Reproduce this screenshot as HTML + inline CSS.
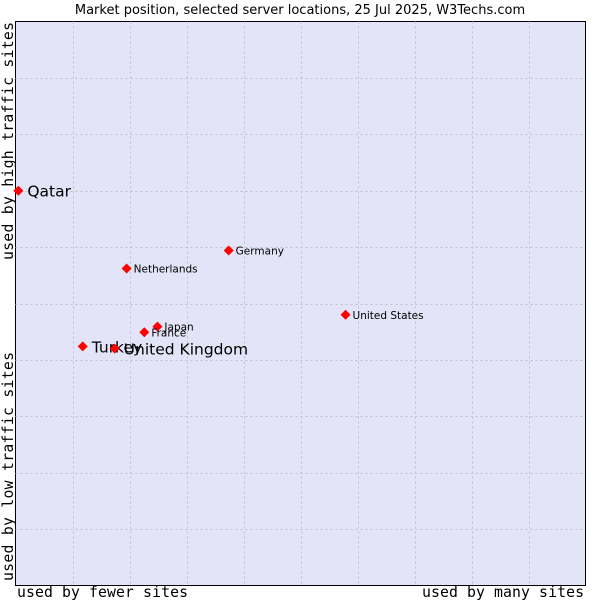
<!DOCTYPE html>
<html><head><meta charset="utf-8"><style>
body{margin:0;background:#fff;width:600px;height:600px;overflow:hidden}
svg{display:block}
</style></head><body>
<svg id="chart" width="600" height="600" xmlns="http://www.w3.org/2000/svg">
<text x="300" y="14" text-anchor="middle" font-family="DejaVu Sans, sans-serif" font-size="13" fill="#000">Market position, selected server locations, 25 Jul 2025, W3Techs.com</text>
<rect x="15.5" y="21.5" width="570" height="564" fill="#e3e4f7" stroke="#000" stroke-width="1"/>
<g id="grid"></g>
<text transform="translate(13,260) rotate(-90)" font-family="DejaVu Sans Mono, monospace" font-size="14.8" fill="#000" textLength="238">used by high traffic sites</text>
<text transform="translate(13,581) rotate(-90)" font-family="DejaVu Sans Mono, monospace" font-size="14.8" fill="#000" textLength="229">used by low traffic sites</text>
<text x="17" y="597" font-family="DejaVu Sans Mono, monospace" font-size="14.8" fill="#000" textLength="171">used by fewer sites</text>
<text x="422" y="597" font-family="DejaVu Sans Mono, monospace" font-size="14.8" fill="#000" textLength="162">used by many sites</text>
<g id="points"></g>
</svg>
<script>
const countries = ["Qatar","Germany","Netherlands","United States","Japan","France","Turkey","United Kingdom"];
const siteShare = [0.5,37.4,19.5,57.9,24.9,22.6,11.8,17.4];
const trafficScore = [70.0,59.4,56.2,48.0,45.9,44.9,42.4,42.0];
const bigLabel = [true,false,false,false,false,false,true,true];
const gridTicks = [10,20,30,40,50,60,70,80,90];
const X0=15.5,W=570,Y0=21.5,H=564;
const xs=v=>X0+v/100*W, ys=v=>Y0+H-v/100*H;
const ns="http://www.w3.org/2000/svg";
const grid=document.getElementById('grid'), pts=document.getElementById('points');
gridTicks.forEach(t=>{
  const v=document.createElementNS(ns,'line');
  
  
  v.setAttribute('x1',Math.round(xs(t))+0.5);v.setAttribute('x2',Math.round(xs(t))+0.5);
  v.setAttribute('y1',Y0);v.setAttribute('y2',Y0+H);
  v.setAttribute('stroke','#c0c0c8');v.setAttribute('stroke-dasharray','2,3');
  grid.appendChild(v);
  const h=document.createElementNS(ns,'line');
  
  
  h.setAttribute('y1',Math.round(ys(t))+0.5);h.setAttribute('y2',Math.round(ys(t))+0.5);
  h.setAttribute('x1',X0);h.setAttribute('x2',X0+W);
  h.setAttribute('stroke','#c0c0c8');h.setAttribute('stroke-dasharray','2,3');
  grid.appendChild(h);
});
countries.forEach((c,i)=>{
  const x=xs(siteShare[i]), y=ys(trafficScore[i]);
  const d=document.createElementNS(ns,'path');
  
  
  d.setAttribute('d',`M${x} ${y-5}L${x+5} ${y}L${x} ${y+5}L${x-5} ${y}Z`);
  d.setAttribute('fill','#ff0000');
  pts.appendChild(d);
  const t=document.createElementNS(ns,'text');
  
  
  t.setAttribute('x',x+(bigLabel[i]?9:7));
  t.setAttribute('y',y+(bigLabel[i]?6:4));
  t.setAttribute('font-family','DejaVu Sans, sans-serif');
  t.setAttribute('font-size',bigLabel[i]?15.5:10.5);
  t.setAttribute('fill','#000');
  t.textContent=c;
  pts.appendChild(t);
});
</script>
</body></html>
